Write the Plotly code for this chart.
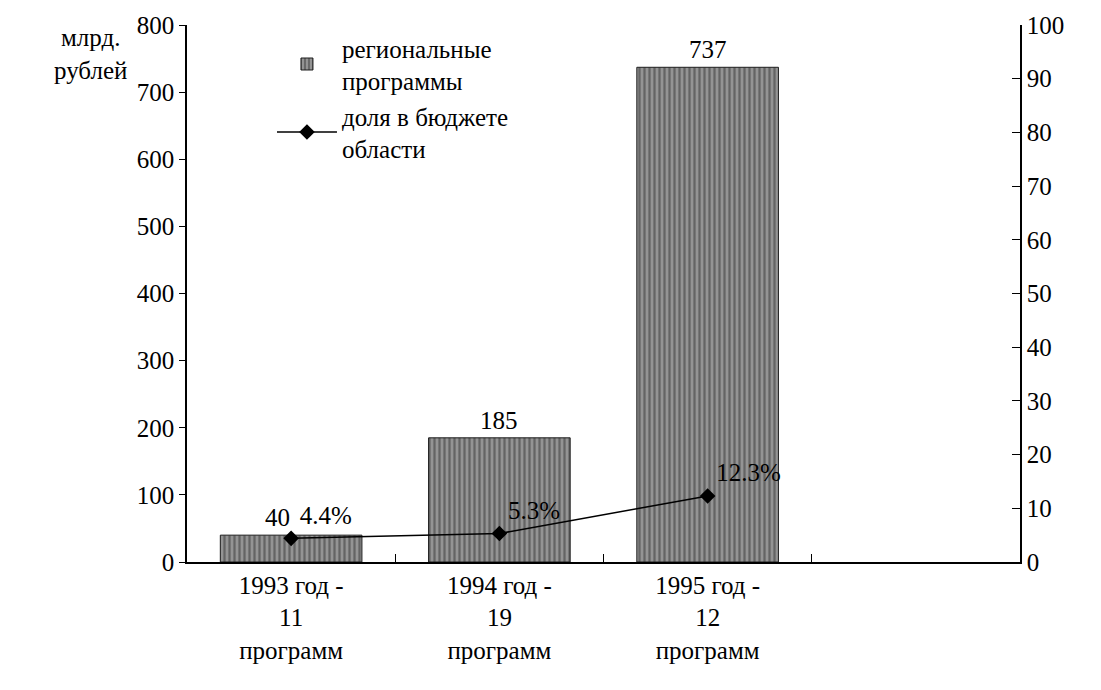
import plotly.graph_objects as go

categories = ["1993 год -<br>11<br>программ", "1994 год -<br>19<br>программ", "1995 год -<br>12<br>программ", " "]
bar_values = [40, 185, 737, None]
share_values = [4.4, 5.3, 12.3]
share_labels = ["4.4%", "5.3%", "12.3%"]

FONT = "Liberation Serif, Times New Roman, serif"
FS = 25

fig = go.Figure()
fig.add_trace(go.Bar(
    x=categories, y=bar_values,
    name="региональные<br>программы",
    marker=dict(color="#949494", line=dict(color="#1e1e1e", width=1),
                pattern=dict(shape="|", fgcolor="#333333", size=5, solidity=0.45)),
))
fig.add_trace(go.Scatter(
    x=categories[:3], y=share_values, yaxis="y2",
    name="доля в бюджете<br>области",
    mode="lines+markers+text",
    line=dict(color="black", width=1.5),
    marker=dict(symbol="diamond", size=12, color="black"),
    text=share_labels, textposition="top right",
    textfont=dict(family=FONT, size=FS, color="black"),
    cliponaxis=False,
))

annotations = [dict(text="млрд.<br>рублей", xref="paper", yref="paper",
                    x=-0.07, y=1.005, xanchor="right", yanchor="top",
                    showarrow=False, align="center",
                    font=dict(family=FONT, size=FS, color="black"))]
for i, v in enumerate(bar_values):
    if v is None:
        continue
    annotations.append(dict(x=categories[i], y=v, xref="x", yref="y", text=str(v),
                            showarrow=False, yanchor="bottom", yshift=2,
                            xshift=-14 if i == 0 else 0,
                            font=dict(family=FONT, size=FS, color="black")))

fig.update_layout(
    width=1101, height=690,
    paper_bgcolor="white", plot_bgcolor="white",
    margin=dict(l=179, r=89, t=17, b=136),
    font=dict(family=FONT, size=FS, color="black"),
    bargap=0.32,
    showlegend=True,
    legend=dict(x=0.102, y=1.0, xanchor="left", yanchor="top",
                bgcolor="rgba(0,0,0,0)", font=dict(family=FONT, size=FS),
                itemwidth=60, tracegroupgap=4),
    xaxis=dict(type="category", categoryorder="array", categoryarray=categories,
               range=[-0.5, 3.5], showline=True, linecolor="black", linewidth=1.5,
               ticks="inside", tickson="boundaries", ticklen=8, tickcolor="black",
               showgrid=False, automargin=False, tickfont=dict(family=FONT, size=FS)),
    yaxis=dict(range=[0, 800], dtick=100, showline=True, linecolor="black", linewidth=1.5,
               ticks="outside", ticklen=6, tickcolor="black", showgrid=False, zeroline=False,
               automargin=False, ticklabeloverflow="allow",
               tickfont=dict(family=FONT, size=FS)),
    yaxis2=dict(range=[0, 100], dtick=10, overlaying="y", side="right",
                showline=True, linecolor="black", linewidth=1.5,
                ticks="inside", ticklen=8, tickcolor="black", showgrid=False, zeroline=False,
                automargin=False, ticklabeloverflow="allow",
                tickfont=dict(family=FONT, size=FS)),
    annotations=annotations,
)

fig.write_html("out.html")
